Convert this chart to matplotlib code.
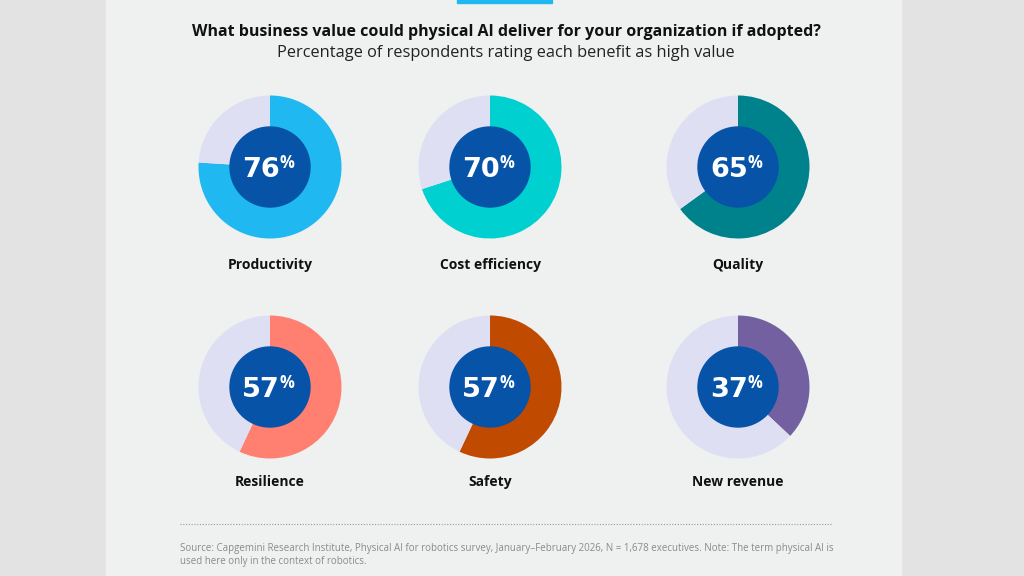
import matplotlib.pyplot as plt
from matplotlib.patches import Circle, Rectangle

plt.rcParams['font.family'] = ['Open Sans', 'DejaVu Sans']

labels = ["Productivity", "Cost efficiency", "Quality", "Resilience", "Safety", "New revenue"]
values = [76, 70, 65, 57, 57, 37]
colors = ["#1fb8f0", "#00d0d0", "#00828c", "#ff8070", "#c04a00", "#7260a0"]

title = "What business value could physical AI deliver for your organization if adopted?"
subtitle = "Percentage of respondents rating each benefit as high value"
source = ("Source: Capgemini Research Institute, Physical AI for robotics survey, January\u2013February 2026, "
          "N = 1,678 executives. Note: The term physical AI is\nused here only in the context of robotics.")

rest_color = "#dfdff3"
hole_color = "#0653a8"

W, H = 1024, 576
fig = plt.figure(figsize=(W / 100, H / 100), dpi=100, facecolor="#e3e3e3")
ax = fig.add_axes([0, 0, 1, 1])

# panel and top accent
ax.add_patch(Rectangle((106, 0), 795, H, color="#eff0f0", zorder=0))
ax.add_patch(Rectangle((457, H - 3), 95, 3, color="#1fb8f0", zorder=1))

col_x = [270, 490, 738]
row_y = [H - 167, H - 387]
label_off = [98, 95]
R, r = 71.5, 40

for i, (lab, v, c) in enumerate(zip(labels, values, colors)):
    cx = col_x[i % 3]
    cy = row_y[i // 3]
    ax.pie([v, 100 - v], colors=[c, rest_color], startangle=90, counterclock=False,
           radius=R, center=(cx, cy), frame=True,
           wedgeprops=dict(linewidth=0))
    ax.add_patch(Circle((cx, cy), r, color=hole_color, zorder=3))
    ax.text(cx + 10, cy - 10, str(v), ha="right", va="baseline", color="white",
            fontsize=19.5, fontweight="bold", family="DejaVu Sans", zorder=4)
    ax.text(cx + 9.5, cy - 0.5, "%", ha="left", va="baseline", color="white",
            fontsize=12, fontweight="bold", zorder=4)
    ax.text(cx, cy - label_off[i // 3], lab, ha="center", va="center", color="#111111",
            fontsize=10, fontweight="bold")

ax.text(506, H - 32, title, ha="center", va="center", fontsize=11.5,
        fontweight="bold", color="#111111")
ax.text(506, H - 53, subtitle, ha="center", va="center", fontsize=11.8,
        color="#222222")

ax.plot([180, 832], [H - 524, H - 524], color="#9a9a9a", linestyle=(0, (1, 1.5)),
        linewidth=0.8)
ax.text(180, H - 543, source, ha="left", va="top", fontsize=7, color="#8a8a8a",
        linespacing=1.3)

ax.set_xlim(0, W)
ax.set_ylim(0, H)
ax.set_aspect("equal")
ax.axis("off")

fig.savefig("out.png", dpi=100, facecolor=fig.get_facecolor())
